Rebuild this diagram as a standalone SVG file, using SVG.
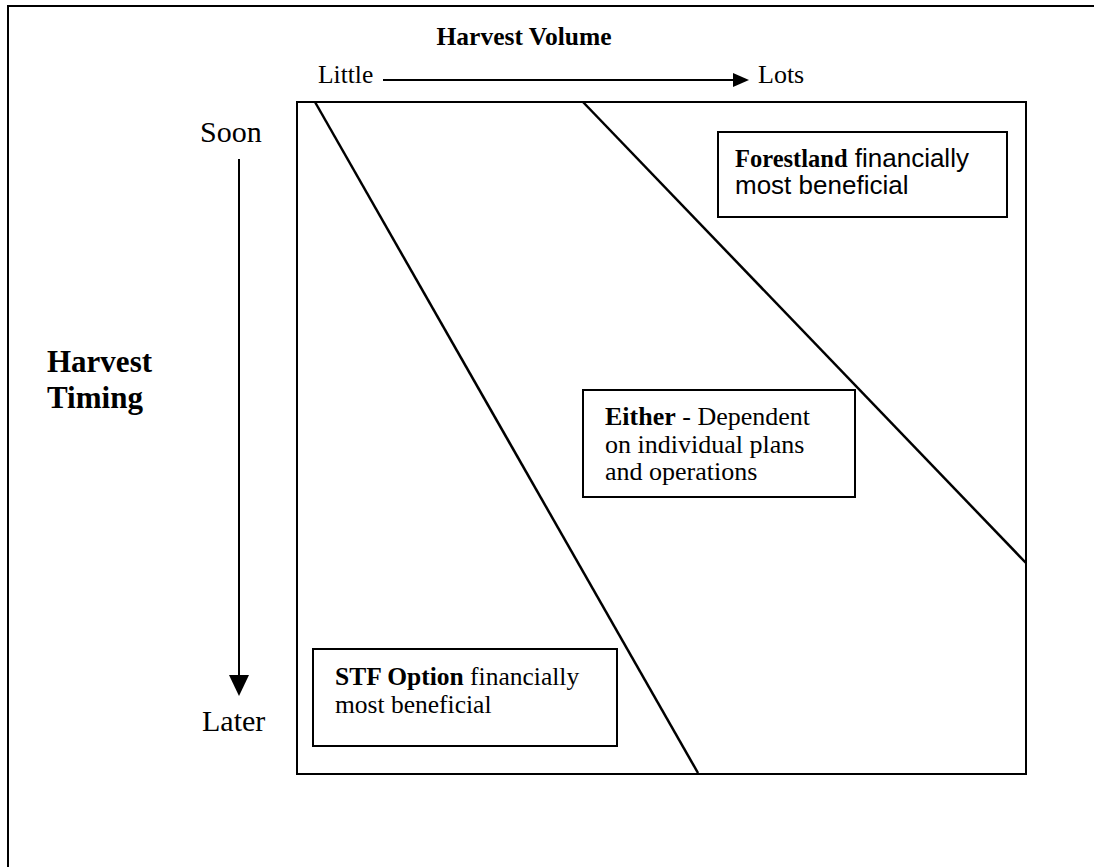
<svg xmlns="http://www.w3.org/2000/svg" width="1094" height="867" viewBox="0 0 1094 867">
<style>
.frame{fill:none;stroke:#000;stroke-width:2}
.box{fill:#fff;stroke:#000;stroke-width:2}
.ln{stroke:#000;stroke-width:2.5;fill:none}
.ax{stroke:#000;stroke-width:2;fill:none}
.head{fill:#000}
.serif{font-family:"Liberation Serif","Times New Roman",serif;fill:#000}
.sans{font-family:"Liberation Sans",Arial,sans-serif;fill:#000}
.b{font-weight:bold}
</style>
<rect width="1094" height="867" fill="#fff"/>
<rect class="frame" x="8" y="6" width="1120" height="900"/>
<g id="axes">
<text class="serif b" x="524" y="45" font-size="25.5" text-anchor="middle">Harvest Volume</text>
<text class="serif" x="318" y="83" font-size="25.5">Little</text>
<text class="serif" x="758" y="83" font-size="26">Lots</text>
<text class="serif" x="200" y="142" font-size="30">Soon</text>
<text class="serif" x="202" y="731" font-size="30">Later</text>
<text class="serif b" x="47" y="372" font-size="31">Harvest</text>
<text class="serif b" x="47" y="408" font-size="31">Timing</text>
</g>
<g id="connectors">
<line class="ax" x1="383" y1="80" x2="734" y2="80"/>
<polygon class="head" points="733,73 749,80 733,87"/>
<line class="ax" x1="239" y1="159" x2="239" y2="676"/>
<polygon class="head" points="229,675 249,675 239,696"/>
</g>
<g id="chart">
<rect class="frame" x="297" y="102" width="729" height="672"/>
<line class="ln" x1="315" y1="102" x2="698" y2="773"/>
<line class="ln" x1="583" y1="102" x2="1026" y2="563"/>
</g>
<g id="forestland">
<rect class="box" x="718" y="132" width="289" height="85"/>
<text x="735" y="167"><tspan class="serif b" font-size="24.5">Forestland</tspan><tspan class="sans" font-size="26"> financially</tspan></text>
<text class="sans" x="735" y="194" font-size="26">most beneficial</text>
</g>
<g id="either">
<rect class="box" x="583" y="390" width="272" height="107"/>
<text x="605" y="425" font-size="26"><tspan class="serif b">Either</tspan><tspan class="serif"> - Dependent</tspan></text>
<text class="serif" x="605" y="453" font-size="26">on individual plans</text>
<text class="serif" x="605" y="480" font-size="26">and operations</text>
</g>
<g id="stf">
<rect class="box" x="313" y="649" width="304" height="97"/>
<text x="335" y="685" font-size="25.5"><tspan class="serif b">STF Option</tspan><tspan class="serif"> financially</tspan></text>
<text class="serif" x="335" y="713" font-size="25.5">most beneficial</text>
</g>
</svg>
